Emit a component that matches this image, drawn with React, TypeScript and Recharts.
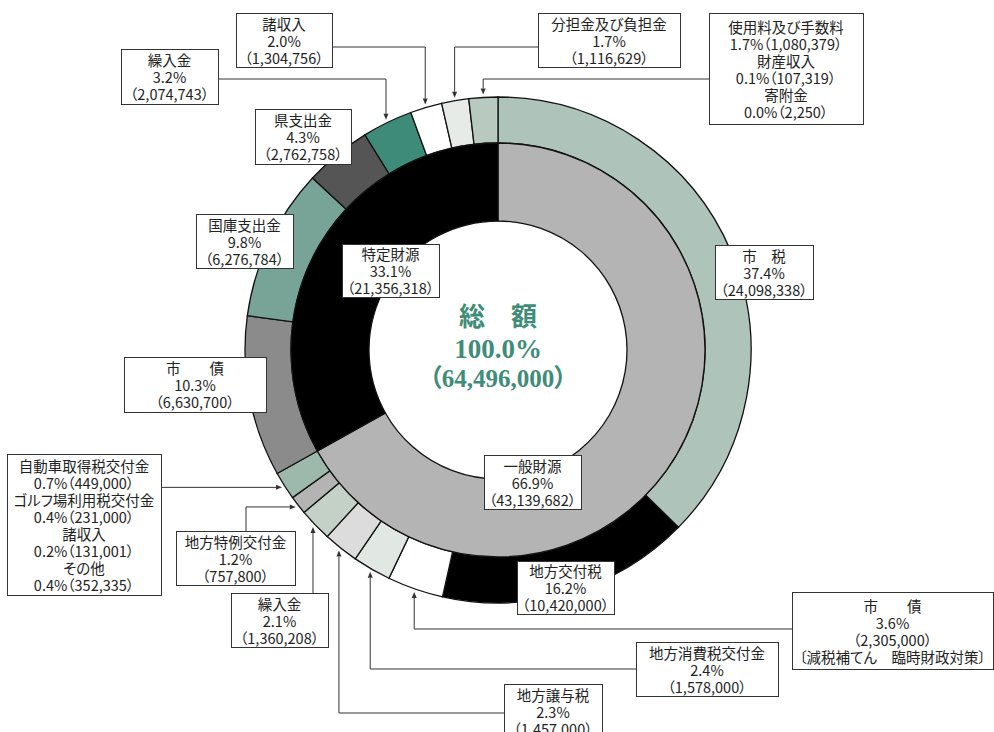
import { PieChart, Pie, Cell, Customized } from "recharts";

// 歳入の内訳（単位：千円）
const sourceNames = ["一般財源", "特定財源"];
const sourceAmounts = [43139682, 21356318];
const sourceShares = ["66.9%", "33.1%"];

const generalNames = ["市　税", "地方交付税", "市　　債", "地方消費税交付金", "地方譲与税", "繰入金", "地方特例交付金"];
const generalAmounts = [24098338, 10420000, 2305000, 1578000, 1457000, 1360208, 757800];
const generalShares = ["37.4%", "16.2%", "3.6%", "2.4%", "2.3%", "2.1%", "1.2%"];
const generalNotes = ["", "", "〔減税補てん　臨時財政対策〕", "", "", "", ""];

const minorGeneralNames = ["自動車取得税交付金", "ゴルフ場利用税交付金", "諸収入", "その他"];
const minorGeneralAmounts = [449000, 231000, 131001, 352335];
const minorGeneralShares = ["0.7%", "0.4%", "0.2%", "0.4%"];

const specificNames = ["市　　債", "国庫支出金", "県支出金", "繰入金", "諸収入", "分担金及び負担金"];
const specificAmounts = [6630700, 6276784, 2762758, 2074743, 1304756, 1116629];
const specificShares = ["10.3%", "9.8%", "4.3%", "3.2%", "2.0%", "1.7%"];

const minorSpecificNames = ["使用料及び手数料", "財産収入", "寄附金"];
const minorSpecificAmounts = [1080379, 107319, 2250];
const minorSpecificShares = ["1.7%", "0.1%", "0.0%"];

const totalTitle = "総　額";
const totalShare = "100.0%";
const totalAmount = 64496000;

const CX = 498;
const CY = 350;
const TEAL = "#3f8c78";

const fmt = (n: number) => `（${n.toLocaleString("en-US")}）`;
const sum = (a: number[]) => a.reduce((s, v) => s + v, 0);

type Entry = { name: string; value: number; lines: string[] };

const outerData: Entry[] = [
  ...generalNames.map((name, i) => ({
    name,
    value: generalAmounts[i],
    lines: [name, generalShares[i], fmt(generalAmounts[i]), ...(generalNotes[i] ? [generalNotes[i]] : [])],
  })),
  {
    name: "その他（一般財源）",
    value: sum(minorGeneralAmounts),
    lines: minorGeneralNames.flatMap((n, i) => [n, `${minorGeneralShares[i]}${fmt(minorGeneralAmounts[i])}`]),
  },
  ...specificNames.map((name, i) => ({
    name,
    value: specificAmounts[i],
    lines: [name, specificShares[i], fmt(specificAmounts[i])],
  })),
  {
    name: "その他（特定財源）",
    value: sum(minorSpecificAmounts),
    lines: minorSpecificNames.flatMap((n, i) => [n, `${minorSpecificShares[i]}${fmt(minorSpecificAmounts[i])}`]),
  },
];

const innerData: Entry[] = sourceNames.map((name, i) => ({
  name,
  value: sourceAmounts[i],
  lines: [name, sourceShares[i], fmt(sourceAmounts[i])],
}));

const outerColors = [
  "#aec3b9", "#000000", "#ffffff", "#e1e7e3", "#dcdcdc", "#c3d1c7", "#b4b4b4", "#9cb9ac",
  "#8b8b8b", "#78a497", "#555555", "#3e8b79", "#ffffff", "#e6ebe8", "#b8c9bf",
];
const innerColors = ["#b4b4b4", "#000000"];

type Box = { x: number; y: number; w: number; h: number; lead?: "hv" | "v" | "vh" | "h"; ly?: number; lx?: number };

const outerBoxes: Box[] = [
  { x: 715, y: 245, w: 98, h: 54 },
  { x: 517, y: 561, w: 97, h: 53 },
  { x: 792, y: 592, w: 201, h: 77, lead: "hv", ly: 629 },
  { x: 636, y: 642, w: 142, h: 54, lead: "hv", ly: 669 },
  { x: 504, y: 684, w: 98, h: 54, lead: "hv", ly: 713 },
  { x: 231, y: 593, w: 97, h: 54, lead: "v" },
  { x: 176, y: 531, w: 119, h: 54, lead: "vh", lx: 246 },
  { x: 7, y: 454, w: 154, h: 141, lead: "h" },
  { x: 124, y: 357, w: 142, h: 55 },
  { x: 196, y: 214, w: 97, h: 54 },
  { x: 255, y: 109, w: 96, h: 55 },
  { x: 121, y: 49, w: 97, h: 55, lead: "hv", ly: 79 },
  { x: 236, y: 13, w: 96, h: 54, lead: "hv", ly: 47 },
  { x: 538, y: 13, w: 142, h: 54, lead: "hv", ly: 47 },
  { x: 709, y: 13, w: 154, h: 111, lead: "hv", ly: 79 },
];
const innerBoxes: Box[] = [
  { x: 484, y: 455, w: 97, h: 54 },
  { x: 342, y: 244, w: 97, h: 53 },
];

const LH = 17;

function makeLabel(data: Entry[], boxes: Box[]) {
  return (props: any) => {
    const { cx, cy, midAngle, outerRadius, index } = props;
    const box = boxes[index];
    const entry = data[index];
    if (!box || !entry) return null;
    const rad = (-midAngle * Math.PI) / 180;
    const tx = cx + (outerRadius + 3) * Math.cos(rad);
    const ty = cy + (outerRadius + 3) * Math.sin(rad);
    let pts: [number, number][] = [];
    if (box.lead === "hv") {
      const ax = tx < box.x ? box.x : box.x + box.w;
      pts = [[ax, box.ly!], [tx, box.ly!], [tx, ty]];
    } else if (box.lead === "v") {
      pts = [[tx, box.y], [tx, ty]];
    } else if (box.lead === "vh") {
      pts = [[box.lx!, box.y], [box.lx!, ty], [tx, ty]];
    } else if (box.lead === "h") {
      pts = [[box.x + box.w, ty], [tx, ty]];
    }
    let leader = null;
    if (pts.length > 1) {
      const [px, py] = pts[pts.length - 2];
      const dx = tx - px;
      const dy = ty - py;
      const len = Math.hypot(dx, dy) || 1;
      const ux = dx / len;
      const uy = dy / len;
      const bx = tx - ux * 6;
      const by = ty - uy * 6;
      const line = [...pts.slice(0, -1), [bx, by]].map((p) => p.join(",")).join(" ");
      leader = (
        <g>
          <polyline points={line} fill="none" stroke="#333" strokeWidth={1} />
          <polygon
            points={`${tx},${ty} ${bx - uy * 2.5},${by + ux * 2.5} ${bx + uy * 2.5},${by - ux * 2.5}`}
            fill="#333"
          />
        </g>
      );
    }
    const n = entry.lines.length;
    const top = box.y + (box.h - n * LH) / 2 + LH / 2;
    return (
      <g>
        {leader}
        <rect x={box.x + 0.5} y={box.y + 0.5} width={box.w} height={box.h} fill="#fff" stroke="#333" strokeWidth={1} />
        {entry.lines.map((t, i) => (
          <text
            key={i}
            x={box.x + box.w / 2}
            y={top + i * LH}
            textAnchor="middle"
            dominantBaseline="central"
            fontFamily="'Noto Sans CJK JP', sans-serif"
            fontSize={14.5}
            fill="#222"
            style={{ fontFeatureSettings: '"palt"' }}
          >
            {t}
          </text>
        ))}
      </g>
    );
  };
}

function CenterTotal() {
  const common = {
    x: CX,
    textAnchor: "middle" as const,
    dominantBaseline: "central" as const,
    fill: TEAL,
    fontWeight: 700,
    fontFamily: "'Liberation Serif', 'Noto Sans CJK JP', serif",
    style: { fontFeatureSettings: '"palt"' },
  };
  return (
    <g>
      <text {...common} y={317} fontSize={26}>{totalTitle}</text>
      <text {...common} y={349} fontSize={27}>{totalShare}</text>
      <text {...common} y={378} fontSize={25}>{fmt(totalAmount)}</text>
    </g>
  );
}

export default function App() {
  return (
    <div style={{ position: "absolute", left: 0, top: 0, width: 994, height: 732, background: "#fff", overflow: "hidden" }}>
      <PieChart width={994} height={732} margin={{ top: 0, right: 0, bottom: 0, left: 0 }}>
        <Pie
          data={outerData}
          dataKey="value"
          nameKey="name"
          cx={CX}
          cy={CY}
          innerRadius={207}
          outerRadius={253}
          startAngle={90}
          endAngle={-270}
          stroke="#111"
          strokeWidth={1.3}
          label={makeLabel(outerData, outerBoxes)}
          labelLine={false}
          isAnimationActive={false}
        >
          {outerData.map((_, i) => (
            <Cell key={i} fill={outerColors[i]} />
          ))}
        </Pie>
        <Pie
          data={innerData}
          dataKey="value"
          nameKey="name"
          cx={CX}
          cy={CY}
          innerRadius={129}
          outerRadius={207}
          startAngle={90}
          endAngle={-270}
          stroke="#111"
          strokeWidth={1.3}
          label={makeLabel(innerData, innerBoxes)}
          labelLine={false}
          isAnimationActive={false}
        >
          {innerData.map((_, i) => (
            <Cell key={i} fill={innerColors[i]} />
          ))}
        </Pie>
        <Customized component={CenterTotal} />
      </PieChart>
    </div>
  );
}
